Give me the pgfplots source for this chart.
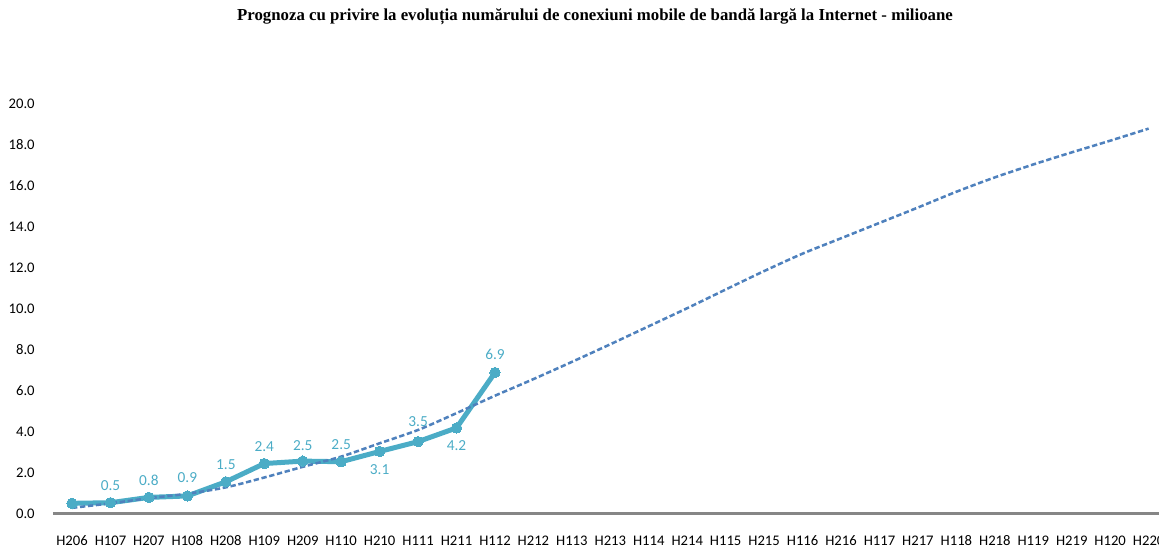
\documentclass[border=0pt]{standalone}
\usepackage{fontspec}
\setmainfont{Carlito}
\newfontfamily\titlefont{Liberation Serif}
\usepackage{pgfplots}
\usepackage{pgfplotstable}
\pgfplotsset{compat=1.18}
\definecolor{tealc}{HTML}{4BACC6}
\definecolor{trendblue}{HTML}{4F81BD}
\definecolor{axgray}{HTML}{868686}

\pgfplotstableread{
x y lab dy
0 0.52 {} 0
1 0.55 0.5 17
2 0.81 0.8 17
3 0.88 0.9 18
4 1.57 1.5 17
5 2.46 2.4 17
6 2.58 2.5 16
7 2.55 2.5 17
8 3.05 3.1 -18
9 3.53 3.5 20
10 4.20 4.2 -18
11 6.90 6.9 18
}\actual

\pgfplotstableread{
x y
0 0.30
1 0.52
2 0.77
3 0.99
4 1.30
5 1.78
6 2.30
7 2.80
8 3.45
9 4.10
10 4.92
11 5.77
12 6.58
13 7.42
14 8.28
15 9.16
16 10.04
17 10.95
18 11.85
19 12.70
20 13.45
21 14.20
22 14.95
23 15.72
24 16.42
25 17.05
26 17.64
27 18.21
28 18.80
}\trend

\begin{document}
\begin{tikzpicture}
\begin{axis}[
  scale only axis, width=836.3pt, height=307.5pt,
  xmin=-0.5, xmax=28.5, ymin=0, ymax=20,
  clip=false,
  axis x line=bottom, axis y line=left,
  x axis line style={draw=axgray, line width=2.25pt, -},
  y axis line style={draw=none},
  tick align=outside,
  major tick length=0pt,
  minor tick length=3.5pt,
  xtick={0,...,28},
  xticklabels={H206,H107,H207,H108,H208,H109,H209,H110,H210,H111,H211,H112,H212,H113,H213,H114,H214,H115,H215,H116,H216,H117,H217,H118,H218,H119,H219,H120,H220},
  minor xtick={-0.5,0.5,...,28.5},
  minor tick style={draw=axgray, line width=1.2pt},
  ytick={0,2,...,20},
  yticklabels={0.0,2.0,4.0,6.0,8.0,10.0,12.0,14.0,16.0,18.0,20.0},
  ytick style={draw=none},
  xtick style={draw=none},
  xticklabel style={font=\fontsize{11}{13}\selectfont, anchor=base, yshift=-23.3pt, inner sep=0pt},
  yticklabel style={font=\fontsize{11}{13}\selectfont, anchor=east, inner sep=0pt, xshift=-13.4pt},
  grid=none,
]
\addplot[color=tealc, line width=3.75pt, mark=*, mark size=3.9pt, mark options={fill=tealc, draw=tealc, line width=0pt},
  point meta=explicit symbolic,
  visualization depends on={\thisrow{dy} \as \dy},
  nodes near coords,
  nodes near coords style={anchor=center, yshift=\dy*0.75pt, text=tealc, font=\fontsize{11.5}{13}\selectfont}]
  table[x=x, y=y, meta=lab] {\actual};
\addplot[color=trendblue, line width=1.9pt, smooth, dash pattern=on 4pt off 2pt, mark=none] table[x=x,y=y] {\trend};
\end{axis}
\node[font=\titlefont\bfseries\fontsize{12.6}{14}\selectfont] at (406.65pt,372.75pt) {Prognoza cu privire la evoluția numărului de conexiuni mobile de bandă largă la Internet - milioane};
\pgfresetboundingbox
\useasboundingbox (-39.6pt,-25.5pt) rectangle (829.65pt,385.5pt);
\end{tikzpicture}
\end{document}
